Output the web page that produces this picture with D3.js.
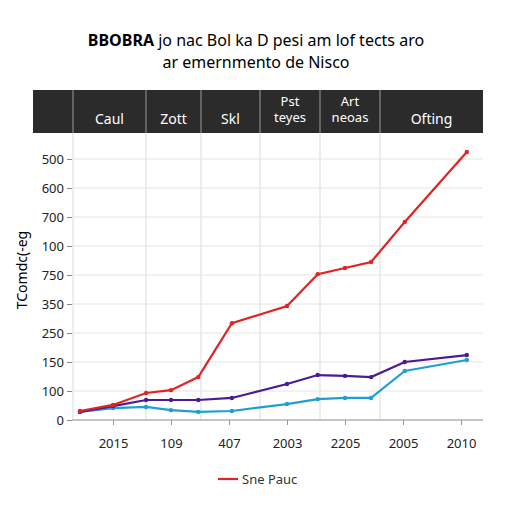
<!DOCTYPE html>
<html><head><meta charset="utf-8">
<script src="https://cdn.jsdelivr.net/npm/d3@7"></script>
<style>body{margin:0;background:#fff}text{font-family:"Noto Sans",sans-serif}</style>
</head><body><svg id="c" width="512" height="512"></svg>
<script>
var headers = ["", "Caul", "Zott", "Skl", "Pst|teyes", "Art|neoas", "Ofting"];
var headerEdges = [33, 73, 146, 201, 260, 320, 380, 483];
var yLabels = ["0", "100", "150", "250", "350", "750", "100", "700", "600", "500"];
var xLabels = ["2015", "109", "407", "2003", "2205", "2005", "2010"];
var xPos = [0.43, 1, 1.57, 2, 2.47, 3.05, 4, 4.53, 5, 5.45, 6.03, 7.1];
var redVals = [0.31, 0.52, 0.93, 1.03, 1.48, 3.34, 3.93, 5.03, 5.24, 5.45, 6.83, 9.24];
var purpleVals = [0.28, 0.48, 0.69, 0.69, 0.69, 0.76, 1.24, 1.55, 1.52, 1.48, 2.0, 2.24];
var cyanVals = [0.28, 0.41, 0.45, 0.34, 0.28, 0.31, 0.55, 0.72, 0.76, 0.76, 1.69, 2.07];

var svg = d3.select("#c");
var t1 = svg.append("text").attr("x", 256).attr("y", 46).attr("text-anchor", "middle").attr("font-size", 16);
t1.append("tspan").attr("font-weight", "bold").text("BBOBRA");
t1.append("tspan").text(" jo nac Bol ka D pesi am lof tects aro");
svg.append("text").attr("x", 256).attr("y", 68).attr("text-anchor", "middle")
    .attr("font-size", 16).text("ar emernmento de Nisco");

// header band
svg.append("rect").attr("x", 33).attr("y", 90).attr("width", 450).attr("height", 43).attr("fill", "#2b2b2b");
headers.forEach(function (h, i) {
    var cx = (headerEdges[i] + headerEdges[i + 1]) / 2;
    if (i > 0) svg.append("line").attr("x1", headerEdges[i]).attr("x2", headerEdges[i])
        .attr("y1", 90).attr("y2", 420).attr("stroke", "#ccc").attr("stroke-width", 0.7);
    var parts = h.split("|");
    var t = svg.append("text").attr("text-anchor", "middle").attr("fill", "#fff")
        .attr("font-size", parts.length > 1 ? 13 : 14);
    parts.forEach(function (p, j) {
        t.append("tspan").attr("x", cx).attr("y", parts.length > 1 ? 106 + j * 16 : 124).text(p);
    });
});

var x = d3.scaleLinear().domain([0, 7]).range([55, 461]);
var y = d3.scaleLinear().domain([0, 9]).range([420, 159]);

var grid = svg.append("g");
d3.range(10).forEach(function (i) {
    grid.append("line").attr("x1", 72).attr("x2", 483).attr("y1", y(i)).attr("y2", y(i))
        .attr("stroke", "#e4e4e4");
});
svg.append("g").attr("transform", "translate(72,0)")
    .call(d3.axisLeft(y).tickValues(d3.range(10)).tickFormat(function (d) { return yLabels[d]; }).tickSize(5))
    .call(function (g) { g.select(".domain").remove(); g.selectAll("text").attr("font-size", 13).attr("fill", "#222"); g.selectAll("line").attr("stroke", "#888"); });
svg.append("g").attr("transform", "translate(0,420)")
    .call(d3.axisBottom(x).tickValues(d3.range(1, 8)).tickFormat(function (d) { return xLabels[d - 1]; }).tickSize(5).tickPadding(14))
    .call(function (g) { g.select(".domain").attr("d", "M72,0H483").attr("stroke", "#999"); g.selectAll("text").attr("font-size", 13).attr("fill", "#222"); g.selectAll("line").attr("stroke", "#999"); });

svg.append("text").attr("transform", "translate(27,270) rotate(-90)").attr("text-anchor", "middle")
    .attr("font-size", 14).text("TComdc(-eg");

var line = d3.line().x(function (d, i) { return x(xPos[i]); }).y(function (d) { return y(d); });
[[cyanVals, "#1e9fd4"], [purpleVals, "#4b1a96"], [redVals, "#e32222"]].forEach(function (s) {
    svg.append("path").datum(s[0]).attr("d", line).attr("fill", "none").attr("stroke", s[1]).attr("stroke-width", 2.2);
    svg.selectAll(null).data(s[0]).enter().append("circle")
        .attr("cx", function (d, i) { return x(xPos[i]); }).attr("cy", function (d) { return y(d); })
        .attr("r", 2.2).attr("fill", s[1]);
});

svg.append("line").attr("x1", 218).attr("x2", 238).attr("y1", 479).attr("y2", 479).attr("stroke", "#e32222").attr("stroke-width", 2.2);
svg.append("text").attr("x", 242).attr("y", 484).attr("font-size", 13).attr("fill", "#333").text("Sne Pauc");
</script></body></html>
